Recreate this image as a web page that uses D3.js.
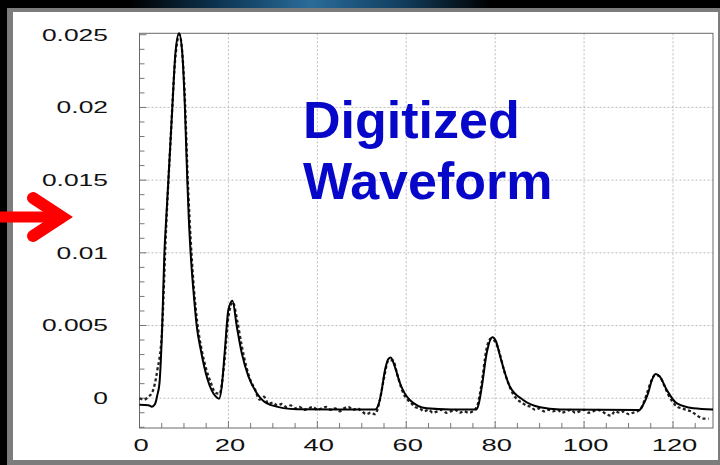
<!DOCTYPE html>
<html>
<head>
<meta charset="utf-8">
<script src="https://cdn.jsdelivr.net/npm/d3@7"></script>
<style>
  html, body { margin: 0; padding: 0; background: #000; }
  svg { display: block; }
</style>
</head>
<body>
<svg id="chart" width="720" height="465"></svg>
<script>
// ---- data -------------------------------------------------------------
// fitted pulse shape (solid line): sample time and amplitude
const fitTime = [0, 2.0, 2.8, 3.5, 4.0, 4.5, 5.1, 5.6, 6.0, 6.5, 7.4, 8.1, 8.9, 9.6, 10.2, 10.75, 11.1, 11.5,
  12.3, 12.9, 13.8, 15.3, 16.6, 17.4, 17.9, 18.5, 19.2, 20.0, 20.9, 21.9, 23.0, 24.5, 26.4, 29.4, 35.4, 45, 53.0,
  53.8, 54.4, 55.2, 56.0, 56.5, 57.5, 58.6, 60.8, 64.6, 70, 75.8, 76.3, 77.0, 78.1, 79.4, 80.2, 81.1, 83.3, 86.3,
  90.1, 94.6, 112.4, 113.2, 114.4, 115.2, 116.1, 117.0, 118.6, 120.8, 124.6, 129];
const fitValue = [-0.00045, -0.00048, -0.00058, -0.0004, 0.0002, 0.00105, 0.0049, 0.0100, 0.0123, 0.0150, 0.0201,
  0.0238, 0.0251, 0.0238, 0.0201, 0.0150, 0.0123, 0.0100,
  0.0068, 0.0049, 0.0033, 0.0013, 0.00034, 0.00005, -0.00003, 0.0008, 0.0033, 0.0061, 0.0067, 0.0049, 0.0031,
  0.0015, 0.00034, -0.00046, -0.00076, -0.00078, -0.00078,
  -0.0004, 0.0004, 0.0019, 0.0027, 0.0028, 0.0021, 0.00103, -0.00012, -0.00069, -0.00077, -0.00077, -0.0004,
  0.0008, 0.0031, 0.0042, 0.0039, 0.0029, 0.0008, -0.00012,
  -0.00062, -0.00077, -0.00082, -0.0005, 0.00034, 0.0012, 0.00167, 0.0015, 0.00057, -0.00034, -0.00069, -0.00077];

// digitized samples (dashed line), one per time bin starting at 0
const sampleValue = [
  0.0000, -0.0001, 0.0001, 0.0005, 0.0019, 0.0043, 0.0118, 0.0178, 0.0232, 0.0250,
  0.0220, 0.0140, 0.0085, 0.0052, 0.0033, 0.0020, 0.0011, 0.0004, 0.0003, 0.0022,
  0.0056, 0.0066, 0.0053, 0.0036, 0.0022, 0.0012, 0.0006, -0.0001, 0.0001, -0.0004,
  -0.0003, -0.0005, -0.0004, -0.0006, -0.0005, -0.0007, -0.0006, -0.0008, -0.0007, -0.0006,
  -0.0008, -0.0007, -0.0006, -0.0008, -0.0007, -0.0009, -0.0007, -0.0006, -0.0008, -0.0007,
  -0.0009, -0.0011, -0.0010, -0.0011, -0.0002, 0.0014, 0.0026, 0.0026, 0.0016, 0.0006,
  0.0000, -0.0003, -0.0006, -0.0007, -0.0009, -0.0008, -0.0010, -0.0009, -0.0008, -0.0010,
  -0.0009, -0.0008, -0.0010, -0.0009, -0.0010, -0.0009, -0.0005, 0.0011, 0.0033, 0.0041,
  0.0039, 0.0031, 0.0019, 0.0010, 0.0003, -0.0001, -0.0003, -0.0005, -0.0006, -0.0008,
  -0.0007, -0.0009, -0.0008, -0.0009, -0.0008, -0.0010, -0.0009, -0.0008, -0.0010, -0.0009,
  -0.0008, -0.0010, -0.0009, -0.0008, -0.0009, -0.0011, -0.0012, -0.0009, -0.0010, -0.0009,
  -0.0011, -0.0010, -0.0009, -0.0006, 0.0002, 0.0011, 0.0016, 0.0015, 0.0009, 0.0002,
  -0.0003, -0.0006, -0.0007, -0.0008, -0.0009, -0.0011, -0.0013, -0.0014, -0.0014];

const xTickValues = [0, 20, 40, 60, 80, 100, 120];
const xTickLabels = ["0", "20", "40", "60", "80", "100", "120"];
const yTickValues = [0, 0.005, 0.01, 0.015, 0.02, 0.025];
const yTickLabels = ["0", "0.005", "0.01", "0.015", "0.02", "0.025"];
const titleLines = ["Digitized", "Waveform"];

// ---- page frame ---------------------------------------------------------
const svg = d3.select("#chart");
const defs = svg.append("defs");
const glow = defs.append("linearGradient").attr("id", "topGlow")
  .attr("x1", "0").attr("x2", "1").attr("y1", "0").attr("y2", "0");
[[0, "#000"], [0.25, "#0d3553"], [0.5, "#2a6c9a"], [0.75, "#123f60"], [1, "#000"]]
  .forEach(([o, c]) => glow.append("stop").attr("offset", o).attr("stop-color", c));

svg.append("rect").attr("width", 720).attr("height", 465).attr("fill", "#000");
svg.append("rect").attr("x", 130).attr("y", 0).attr("width", 360).attr("height", 9).attr("fill", "url(#topGlow)");
svg.append("rect").attr("x", 7).attr("y", 8).attr("width", 713).attr("height", 457).attr("fill", "#7c7c7c");
svg.append("rect").attr("x", 13).attr("y", 12).attr("width", 705).attr("height", 448).attr("fill", "#fff");

// ---- scales -------------------------------------------------------------
const x = d3.scaleLinear().domain([0, 129]).range([139.5, 713]);
const y = d3.scaleLinear().domain([-0.00205, 0.0251]).range([428, 33.3]);
const [x0, x1] = x.range();
const [yb, yt] = y.range();

const plot = svg.append("g");

// dotted grid at the labelled values
plot.append("g").selectAll("line").data(xTickValues.filter(d => d > 0)).join("line")
  .attr("x1", d => x(d)).attr("x2", d => x(d)).attr("y1", yt).attr("y2", yb)
  .attr("stroke", "#bdbdbd").attr("stroke-width", 1).attr("stroke-dasharray", "2,2");
plot.append("g").selectAll("line").data(yTickValues.filter(d => d < 0.025)).join("line")
  .attr("x1", x0).attr("x2", x1).attr("y1", d => y(d)).attr("y2", d => y(d))
  .attr("stroke", "#bdbdbd").attr("stroke-width", 1).attr("stroke-dasharray", "2,2");

// title
const title = svg.append("text")
  .attr("font-family", "'Liberation Sans', Arial, sans-serif")
  .attr("font-weight", "bold").attr("font-size", 52).attr("fill", "#0707c9");
title.selectAll("tspan").data(titleLines).join("tspan")
  .attr("x", 303).attr("y", (d, i) => 138 + i * 61).text(d => d);

// minor ticks inside the frame
const yMinor = d3.range(-2, 26).map(k => k / 1000);
plot.append("g").selectAll("line").data(yMinor).join("line")
  .attr("x1", x0).attr("x2", d => x0 + (Math.abs(d * 200 - Math.round(d * 200)) < 1e-6 ? 7 : 5))
  .attr("y1", d => y(d)).attr("y2", d => y(d))
  .attr("stroke", "#777").attr("stroke-width", 1);
const xMinor = d3.range(0, 130, 5);
plot.append("g").selectAll("line").data(xMinor).join("line")
  .attr("x1", d => x(d)).attr("x2", d => x(d))
  .attr("y1", yb).attr("y2", d => yb - (d % 20 === 0 ? 7 : 5))
  .attr("stroke", "#777").attr("stroke-width", 1);

// frame
plot.append("rect").attr("x", x0).attr("y", yt).attr("width", x1 - x0).attr("height", yb - yt)
  .attr("fill", "none").attr("stroke", "#6a6a6a").attr("stroke-width", 1);

// ---- curves ------------------------------------------------------------
const fitLine = d3.line().x(d => x(d[0])).y(d => y(d[1])).curve(d3.curveMonotoneX);
const sampleLine = d3.line().x((d, i) => x(i)).y(d => y(d)).curve(d3.curveMonotoneX);

plot.append("path").datum(sampleValue).attr("d", sampleLine)
  .attr("fill", "none").attr("stroke", "#222").attr("stroke-width", 2.3)
  .attr("stroke-dasharray", "3,2.5");
plot.append("path").datum(fitTime.map((t, i) => [t, fitValue[i]])).attr("d", fitLine)
  .attr("fill", "none").attr("stroke", "#000").attr("stroke-width", 2);

// ---- tick labels (wide lettering) ----------------------------------------
const labelFont = "'Liberation Sans', Arial, sans-serif";
svg.append("g").selectAll("text").data(yTickValues).join("text")
  .attr("transform", d => `translate(108,${y(d)}) scale(1.62,1)`)
  .attr("dy", "0.36em").attr("text-anchor", "end")
  .attr("font-family", labelFont).attr("font-size", 16.3).attr("fill", "#111")
  .text((d, i) => yTickLabels[i]);
svg.append("g").selectAll("text").data(xTickValues).join("text")
  .attr("transform", d => `translate(${x(d) + 1.5},450.5) scale(1.68,1)`)
  .attr("text-anchor", "middle")
  .attr("font-family", labelFont).attr("font-size", 16.3).attr("fill", "#111")
  .text((d, i) => xTickLabels[i]);

// ---- red pointer arrow -----------------------------------------------------
const arrow = svg.append("g").attr("stroke", "#ff0000").attr("fill", "none");
arrow.append("line").attr("x1", -4).attr("x2", 64).attr("y1", 217).attr("y2", 217)
  .attr("stroke-width", 11);
arrow.append("path").attr("d", d3.line()([[33, 198], [62, 217], [33, 236]]))
  .attr("stroke-width", 12).attr("stroke-linecap", "round").attr("stroke-linejoin", "miter");
</script>
</body>
</html>
